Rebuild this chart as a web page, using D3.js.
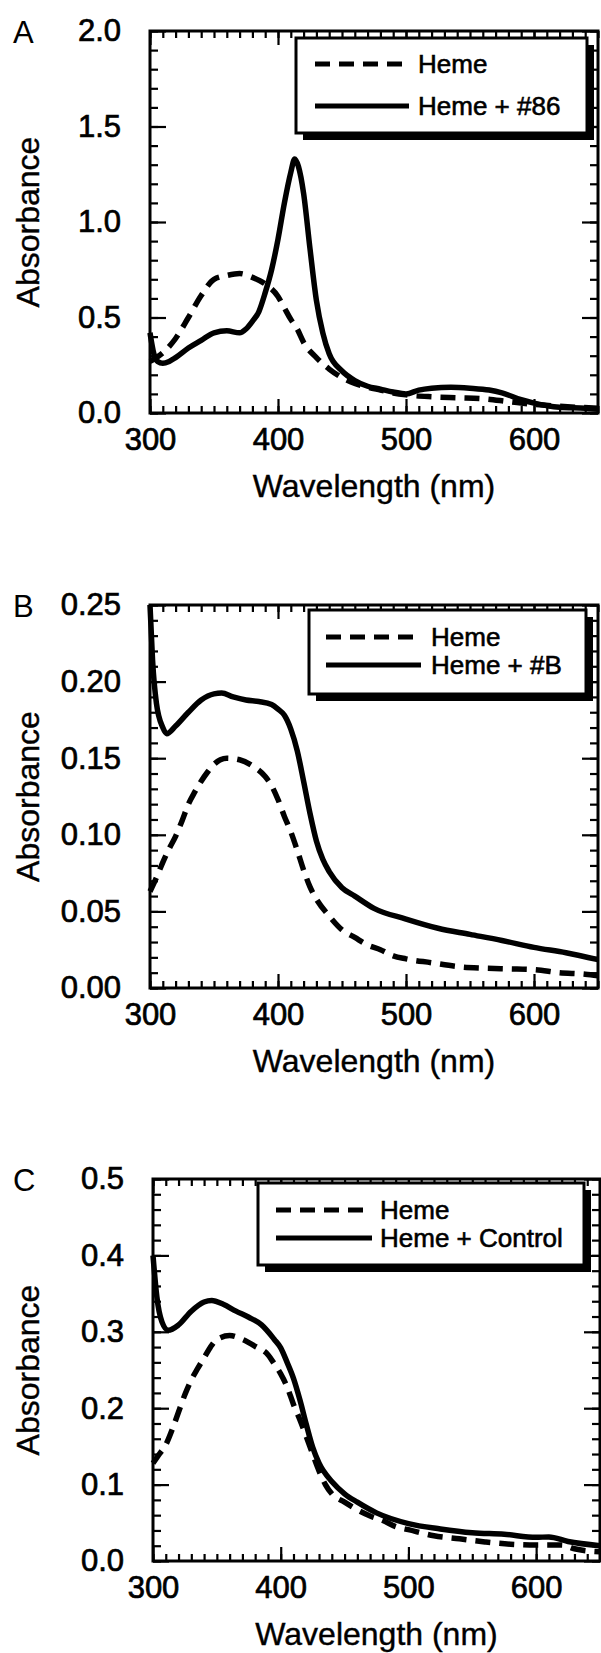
<!DOCTYPE html>
<html>
<head>
<meta charset="utf-8">
<script src="https://cdn.jsdelivr.net/npm/d3@7/dist/d3.min.js"></script>
<style>
  body { margin: 0; background: #fff; }
  text { font-family: "Liberation Sans", Arial, sans-serif; fill: #000; }
</style>
</head>
<body>
<div id="chart"></div>
<script>

// ---- data ----

// panel A : heme alone (dashed) and heme + #86 (solid)
var xA_heme = [300, 305, 310, 320, 330, 340, 350, 360, 370, 380, 390, 400, 405, 410, 415, 420, 430, 440, 450, 460, 470, 480, 490, 500, 520, 540, 560, 580, 600, 620, 650];
var yA_heme = [0.27, 0.29, 0.315, 0.39, 0.50, 0.615, 0.70, 0.72, 0.73, 0.71, 0.675, 0.61, 0.55, 0.49, 0.44, 0.37, 0.29, 0.23, 0.185, 0.155, 0.135, 0.12, 0.105, 0.095, 0.085, 0.08, 0.075, 0.06, 0.045, 0.035, 0.025];
var xA_86 = [300, 303, 306, 310, 315, 320, 330, 340, 350, 360, 370, 375, 380, 385, 390, 395, 400, 405, 410, 413, 416, 420, 425, 430, 435, 440, 450, 460, 470, 480, 490, 500, 510, 520, 535, 550, 565, 575, 590, 600, 620, 640, 650];
var yA_86 = [0.42, 0.31, 0.27, 0.26, 0.27, 0.29, 0.34, 0.38, 0.42, 0.43, 0.42, 0.44, 0.48, 0.53, 0.63, 0.75, 0.91, 1.10, 1.26, 1.33, 1.29, 1.15, 0.86, 0.59, 0.42, 0.31, 0.22, 0.17, 0.14, 0.125, 0.11, 0.10, 0.12, 0.13, 0.135, 0.13, 0.12, 0.105, 0.07, 0.052, 0.03, 0.025, 0.02];

// panel B : heme alone (dashed) and heme + #B (solid)
var xB_heme = [300, 305, 310, 315, 320, 325, 330, 335, 340, 345, 350, 355, 360, 370, 380, 390, 395, 400, 405, 410, 415, 420, 425, 430, 440, 450, 460, 470, 480, 490, 500, 520, 540, 560, 580, 600, 620, 640, 650];
var yB_heme = [0.063, 0.072, 0.082, 0.091, 0.099, 0.109, 0.12, 0.128, 0.135, 0.141, 0.146, 0.149, 0.150, 0.149, 0.145, 0.138, 0.132, 0.123, 0.112, 0.102, 0.09, 0.077, 0.066, 0.058, 0.047, 0.038, 0.033, 0.028, 0.025, 0.021, 0.019, 0.0165, 0.014, 0.013, 0.0125, 0.012, 0.010, 0.009, 0.008];
var xB_b = [300, 302, 305, 310, 313, 320, 330, 340, 350, 356, 365, 375, 385, 395, 400, 405, 410, 415, 420, 425, 430, 435, 440, 450, 460, 475, 500, 525, 550, 575, 600, 625, 650];
var yB_b = [0.25, 0.214, 0.186, 0.170, 0.166, 0.171, 0.180, 0.188, 0.192, 0.1925, 0.190, 0.188, 0.187, 0.185, 0.182, 0.178, 0.169, 0.155, 0.135, 0.114, 0.096, 0.084, 0.076, 0.0655, 0.060, 0.052, 0.045, 0.039, 0.035, 0.031, 0.0265, 0.023, 0.0185];

// panel C : heme alone (dashed) and heme + control (solid)
var xC_heme = [300, 305, 310, 315, 320, 325, 330, 335, 340, 345, 350, 360, 370, 380, 390, 395, 400, 405, 410, 415, 420, 425, 430, 435, 440, 450, 460, 470, 480, 490, 500, 520, 540, 560, 580, 600, 620, 630, 650];
var yC_heme = [0.128, 0.14, 0.152, 0.172, 0.195, 0.218, 0.237, 0.252, 0.266, 0.28, 0.29, 0.295, 0.29, 0.281, 0.27, 0.258, 0.245, 0.228, 0.205, 0.185, 0.163, 0.14, 0.118, 0.10, 0.088, 0.077, 0.067, 0.059, 0.053, 0.045, 0.041, 0.033, 0.029, 0.025, 0.022, 0.021, 0.021, 0.016, 0.012];
var xC_ctl = [300, 303, 307, 312, 320, 330, 340, 346, 355, 365, 375, 385, 395, 400, 405, 410, 415, 420, 425, 430, 440, 450, 460, 475, 500, 525, 550, 575, 600, 610, 625, 650];
var yC_ctl = [0.40, 0.346, 0.313, 0.302, 0.309, 0.327, 0.339, 0.341, 0.336, 0.327, 0.319, 0.309, 0.290, 0.279, 0.26, 0.239, 0.211, 0.179, 0.149, 0.128, 0.104, 0.088, 0.077, 0.063, 0.049, 0.042, 0.037, 0.035, 0.031, 0.0315, 0.0255, 0.02];

var xTicks = [300, 400, 500, 600];
var yTicksA = [0, 0.5, 1.0, 1.5, 2.0];
var yTicksB = [0, 0.05, 0.10, 0.15, 0.20, 0.25];
var yTicksC = [0, 0.1, 0.2, 0.3, 0.4, 0.5];

var legendA = ["Heme", "Heme + #86"];
var legendB = ["Heme", "Heme + #B"];
var legendC = ["Heme", "Heme + Control"];


// ---- layout of the three panels ----
var panels = [
  { letter: "A", left: 150, right: 598, top: 31, bottom: 413,
    yMax: 2.0, yTicks: yTicksA, yMinor: 0.1, fmt: ".1f",
    dashX: xA_heme, dashY: yA_heme, solidX: xA_86, solidY: yA_86, names: legendA,
    leg: { x0: 296, y0: 38, x1: 587, y1: 133, rows: [64, 106], l0: 315, l1: 409, tx: 418 } },
  { letter: "B", left: 150, right: 598, top: 605, bottom: 988,
    yMax: 0.25, yTicks: yTicksB, yMinor: 0.01, fmt: ".2f",
    dashX: xB_heme, dashY: yB_heme, solidX: xB_b, solidY: yB_b, names: legendB,
    leg: { x0: 309, y0: 610, x1: 586, y1: 694, rows: [637, 665], l0: 326, l1: 421, tx: 431 } },
  { letter: "C", left: 153, right: 600, top: 1179, bottom: 1561,
    yMax: 0.5, yTicks: yTicksC, yMinor: 0.02, fmt: ".1f",
    dashX: xC_heme, dashY: yC_heme, solidX: xC_ctl, solidY: yC_ctl, names: legendC,
    leg: { x0: 258, y0: 1183, x1: 584, y1: 1265, rows: [1210, 1238], l0: 276, l1: 372, tx: 380 } }
];

var dashPattern = "15, 9";

var svg = d3.select("#chart")
  .append("svg")
  .attr("width", 601)
  .attr("height", 1653);

panels.forEach(function(p, i) {

  var x = d3.scaleLinear().domain([300, 650]).range([p.left, p.right]);
  var y = d3.scaleLinear().domain([0, p.yMax]).range([p.bottom, p.top]);

  var g = svg.append("g");

  // minor ticks on all four sides, pointing inward
  var xMinor = d3.range(300, 651, 10);
  var yMinor = d3.range(0, p.yMax + 1e-9, p.yMinor);

  g.append("g").attr("transform", "translate(0," + p.bottom + ")")
    .call(d3.axisBottom(x).tickValues(xMinor).tickSize(-7).tickFormat(""));
  g.append("g").attr("transform", "translate(0," + p.top + ")")
    .call(d3.axisTop(x).tickValues(xMinor).tickSize(-7).tickFormat(""));
  g.append("g").attr("transform", "translate(" + p.left + ",0)")
    .call(d3.axisLeft(y).tickValues(yMinor).tickSize(-8).tickFormat(""));
  g.append("g").attr("transform", "translate(" + p.right + ",0)")
    .call(d3.axisRight(y).tickValues(yMinor).tickSize(-8).tickFormat(""));

  // major ticks + labels
  g.append("g").attr("transform", "translate(0," + p.bottom + ")")
    .call(d3.axisBottom(x).tickValues(xTicks).tickSize(-14).tickPadding(15).tickFormat(d3.format("d")));
  g.append("g").attr("transform", "translate(0," + p.top + ")")
    .call(d3.axisTop(x).tickValues(xTicks).tickSize(-14).tickFormat(""));
  g.append("g").attr("transform", "translate(" + p.left + ",0)")
    .call(d3.axisLeft(y).tickValues(p.yTicks).tickSize(-16).tickPadding(29).tickFormat(d3.format(p.fmt)));
  g.append("g").attr("transform", "translate(" + p.right + ",0)")
    .call(d3.axisRight(y).tickValues(p.yTicks).tickSize(-16).tickFormat(""));

  g.selectAll(".domain").remove();
  g.selectAll(".tick line").attr("stroke", "#000").attr("stroke-width", 2.2);
  g.selectAll(".tick text")
    .style("font-family", "'Liberation Sans', Arial, sans-serif")
    .style("font-size", "31px")
    .attr("fill", "#000")
    .attr("stroke", "#000")
    .attr("stroke-width", 0.7);

  // frame
  g.append("rect")
    .attr("x", p.left).attr("y", p.top)
    .attr("width", p.right - p.left).attr("height", p.bottom - p.top)
    .attr("fill", "none").attr("stroke", "#000").attr("stroke-width", 3);

  // curves
  var line = d3.line()
    .x(function(d) { return x(d[0]); })
    .y(function(d) { return y(d[1]); })
    .curve(d3.curveMonotoneX);

  var dashData = p.dashX.map(function(v, k) { return [v, p.dashY[k]]; });
  var solidData = p.solidX.map(function(v, k) { return [v, p.solidY[k]]; });

  g.append("path").datum(dashData)
    .attr("fill", "none").attr("stroke", "#000").attr("stroke-width", 5.5)
    .style("stroke-dasharray", dashPattern)
    .attr("d", line);
  g.append("path").datum(solidData)
    .attr("fill", "none").attr("stroke", "#000").attr("stroke-width", 5.5)
    .attr("stroke-linejoin", "round")
    .attr("d", line);

  // legend box with drop shadow
  var L = p.leg;
  g.append("rect")
    .attr("x", L.x0 + 7).attr("y", L.y0 + 7)
    .attr("width", L.x1 - L.x0).attr("height", L.y1 - L.y0)
    .attr("fill", "#000");
  g.append("rect")
    .attr("x", L.x0).attr("y", L.y0)
    .attr("width", L.x1 - L.x0).attr("height", L.y1 - L.y0)
    .attr("fill", "#fff").attr("stroke", "#000").attr("stroke-width", 3);

  L.rows.forEach(function(ry, k) {
    g.append("line")
      .attr("x1", L.l0).attr("x2", L.l1).attr("y1", ry).attr("y2", ry)
      .attr("stroke", "#000").attr("stroke-width", 5)
      .style("stroke-dasharray", k == 0 ? dashPattern : null);
    g.append("text")
      .attr("x", L.tx).attr("y", ry)
      .attr("dy", "0.36em")
      .style("font-size", "26px")
      .attr("stroke", "#000").attr("stroke-width", 0.6)
      .text(p.names[k]);
  });

  // axis titles
  g.append("text")
    .attr("text-anchor", "middle")
    .attr("transform", "translate(39," + (p.top + p.bottom) / 2 + ")rotate(-90)")
    .style("font-size", "32px")
    .attr("stroke", "#000").attr("stroke-width", 0.4)
    .text("Absorbance");
  g.append("text")
    .attr("text-anchor", "middle")
    .attr("x", (p.left + p.right) / 2)
    .attr("y", p.bottom + 84)
    .style("font-size", "32px")
    .attr("stroke", "#000").attr("stroke-width", 0.4)
    .text("Wavelength (nm)");

  // panel letter
  g.append("text")
    .attr("x", 13).attr("y", p.top + 12)
    .style("font-size", "31px")
    .text(p.letter);
});

</script>
</body>
</html>
